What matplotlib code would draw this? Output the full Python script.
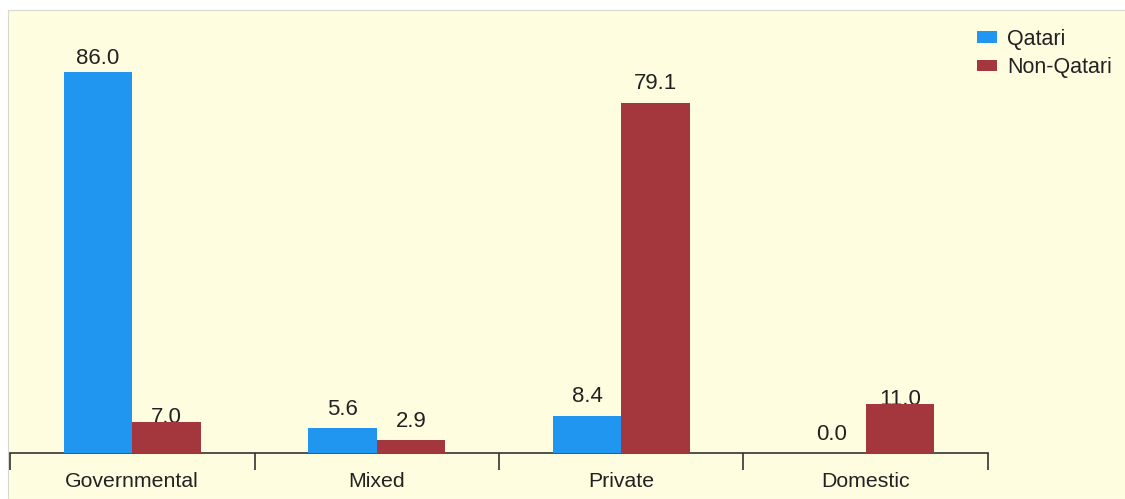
import numpy as np
import matplotlib.pyplot as plt
from matplotlib.patches import Rectangle

sectors = ["Governmental", "Mixed", "Private", "Domestic"]
qatari = [86.0, 5.6, 8.4, 0.0]
non_qatari = [7.0, 2.9, 79.1, 11.0]

blue = "#2196F0"
red = "#A3373D"
bg = "#FFFDE0"

plt.rcParams["font.family"] = ["Liberation Sans", "DejaVu Sans"]

fig = plt.figure(figsize=(11.25, 4.99), dpi=100)
fig.patch.set_facecolor("white")
# pale yellow panel behind the chart
fig.patches.append(Rectangle((8 / 1125, 0), 1, (499 - 10) / 499,
                             transform=fig.transFigure, facecolor=bg,
                             edgecolor="#d8d8d0", linewidth=0.8, zorder=-1))

ax = fig.add_axes([10 / 1125, 46 / 499, 978 / 1125, 443 / 499])
ax.set_facecolor("none")

x = np.arange(len(sectors))
w = 0.28
b1 = ax.bar(x - w / 2, qatari, w, color=blue, label="Qatari", zorder=3)
b2 = ax.bar(x + w / 2, non_qatari, w, color=red, label="Non-Qatari", zorder=3)

# value labels; a few sit lower, as in the original
offsets_q = [2, 6, 6, 6]
offsets_n = [-4, 6, 6, -4]
for bars, vals, offs in [(b1, qatari, offsets_q), (b2, non_qatari, offsets_n)]:
    for rect, v, o in zip(bars, vals, offs):
        ax.annotate(f"{v:.1f}", (rect.get_x() + rect.get_width() / 2, v),
                    xytext=(0, o), textcoords="offset points",
                    ha="center", va="bottom", fontsize=16, color="#222222",
                    zorder=2)

ax.set_xlim(-0.5, 3.5)
ax.set_ylim(0, 100)
ax.set_yticks([])
for s in ["top", "right", "left"]:
    ax.spines[s].set_visible(False)
ax.spines["bottom"].set_color("#333333")
ax.spines["bottom"].set_linewidth(1.2)

ax.set_xticks(np.arange(-0.5, 4, 1))
ax.set_xticklabels([])
ax.tick_params(axis="x", which="major", length=12, width=1.2,
               color="#333333", direction="out")
ax.set_xticks(x, minor=True)
ax.set_xticklabels(sectors, minor=True, fontsize=15.3, color="#222222")
ax.tick_params(axis="x", which="minor", length=0, pad=14)

leg = fig.legend(loc="upper left", bbox_to_anchor=(966 / 1125, 1 - 18 / 499),
                 frameon=False, fontsize=15.5, handlelength=0.95, handleheight=0.45,
                 handletextpad=0.45, labelspacing=0.35, borderpad=0)
for t in leg.get_texts():
    t.set_color("#222222")

fig.savefig("out.png", dpi=100, facecolor=fig.get_facecolor())
